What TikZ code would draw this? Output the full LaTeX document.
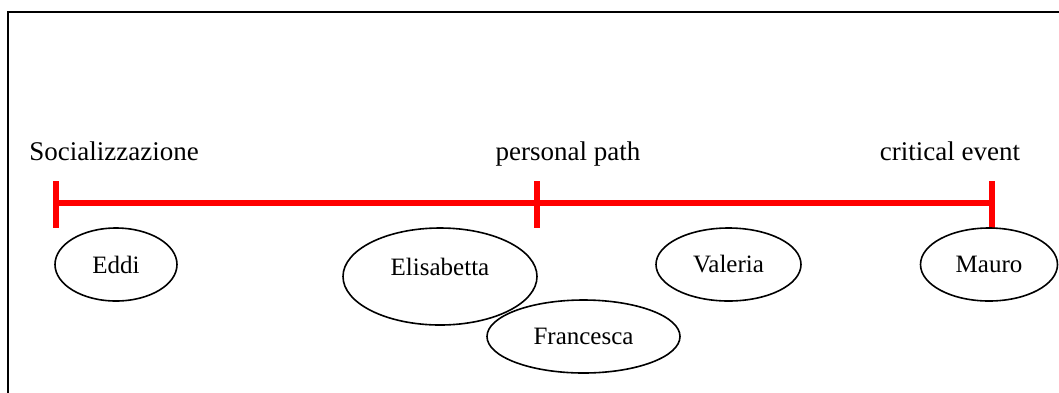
\documentclass[tikz,border=0pt]{standalone}
\usepackage{fontspec}
\setmainfont{Liberation Serif}
\usetikzlibrary{shapes.geometric}
\begin{document}
\begin{tikzpicture}[x=1pt,y=-1pt,
  frame/.style={line width=1.8pt,black},
  axis/.style={line width=5.5pt,red},
  person/.style={ellipse,draw,line width=1.6pt,inner sep=0pt,
    font=\fontsize{25}{30}\selectfont},
  phase/.style={font=\fontsize{27}{32}\selectfont,anchor=base}
]
\useasboundingbox (0,0) rectangle (1059,392);
\fill[white] (0,0) rectangle (1059,392);

% outer frame (open to the right and bottom)
\draw[frame] (1065,12) -- (8,12) -- (8,398);

% timeline with three ticks
\coordinate (t1) at (56,203);
\coordinate (t2) at (537,203);
\coordinate (t3) at (992,203);
\coordinate (t1a) at (56,181);
\coordinate (t1b) at (56,228);
\coordinate (t2a) at (537,181);
\coordinate (t2b) at (537,228);
\coordinate (t3a) at (992,181);
\coordinate (t3b) at (992,228);
\draw[axis] (t1) -- (t3);
\draw[axis] (t1a) -- (t1b);
\draw[axis] (t2a) -- (t2b);
\draw[axis] (t3a) -- (t3b);

% phase labels
\node[phase] (soc) at (114,160) {Socializzazione};
\node[phase] (pers) at (568,160) {personal path};
\node[phase] (crit) at (950,160) {critical event};

% people
\node[person,minimum width=122pt,minimum height=73pt] (eddi) at (116,264.5) {Eddi};
\node[person,minimum width=194pt,minimum height=97pt,text depth=20pt] (elis) at (440,276.5) {Elisabetta};
\node[person,minimum width=193pt,minimum height=73pt] (fran) at (583.5,336.5) {Francesca};
\node[person,minimum width=145pt,minimum height=73pt] (vale) at (728.5,264.5) {Valeria};
\node[person,minimum width=137pt,minimum height=73pt] (mauro) at (989,264.5) {Mauro};
\end{tikzpicture}
\end{document}
